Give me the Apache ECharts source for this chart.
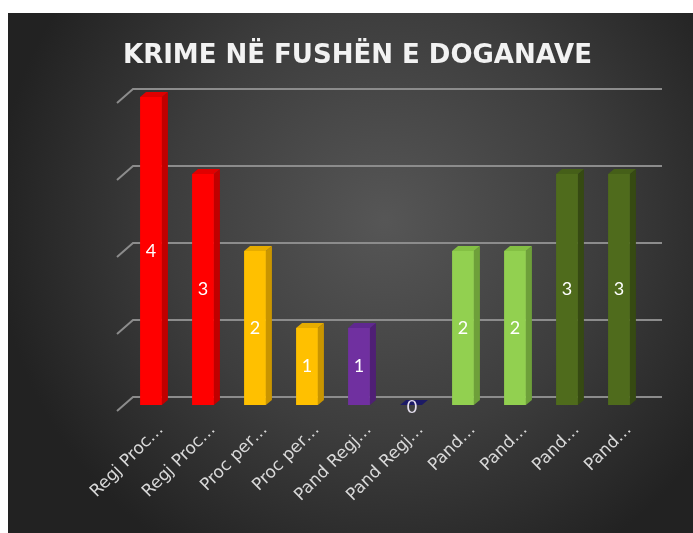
<!DOCTYPE html>
<html>
<head>
<meta charset="utf-8">
<script src="https://cdn.jsdelivr.net/npm/echarts@6/dist/echarts.min.js"></script>
<style>
  html, body { margin: 0; padding: 0; background: #fff; }
  #chart { position: absolute; left: 8px; top: 13px; width: 685px; height: 520px; }
</style>
</head>
<body>
<div id="chart"></div>
<script>
var categories = ['Regj Proc…', 'Regj Proc…', 'Proc per…', 'Proc per…', 'Pand Regj…', 'Pand Regj…', 'Pand…', 'Pand…', 'Pand…', 'Pand…'];
var values = [4, 3, 2, 1, 1, 0, 2, 2, 3, 3];
var yTicks = [0, 1, 2, 3, 4];

// front / side / top colours for each bar
var barColors = [
  ['#ff0000', '#c00000', '#e00000'],
  ['#ff0000', '#c00000', '#e00000'],
  ['#ffc000', '#c99500', '#e6ac00'],
  ['#ffc000', '#c99500', '#e6ac00'],
  ['#7030a0', '#4f1f75', '#5f2890'],
  ['#7030a0', '#4f1f75', '#1c1a66'],
  ['#92d050', '#6ea03a', '#84c044'],
  ['#92d050', '#6ea03a', '#84c044'],
  ['#4f6b1c', '#364a12', '#455f18'],
  ['#4f6b1c', '#364a12', '#455f18']
];

var chart = echarts.init(document.getElementById('chart'));

function renderGrid(params, api) {
  var cs = params.coordSys;
  var y = api.coord([0, api.value(1)])[1];
  return {
    type: 'polyline',
    shape: { points: [[cs.x - 8, y + 6], [cs.x + 8, y - 8], [cs.x + cs.width + 17, y - 8]] },
    style: { stroke: '#8c8c8c', lineWidth: 2, fill: null }
  };
}

function renderBar(params, api) {
  var i = params.dataIndex;
  var v = api.value(1);
  var base = api.coord([api.value(0), 0]);
  var top = api.coord([api.value(0), v]);
  var w = api.size([1, 0])[0] * 0.42;
  var x = base[0] - w / 2;
  var dx = 6, dy = 5;
  var c = barColors[i];
  var children = [];
  if (v > 0) {
    children.push({
      type: 'polygon',
      shape: { points: [[x + w, top[1]], [x + w + dx, top[1] - dy], [x + w + dx, base[1] - dy], [x + w, base[1]]] },
      style: { fill: c[1] }
    });
    children.push({
      type: 'rect',
      shape: { x: x, y: top[1], width: w, height: base[1] - top[1] },
      style: { fill: c[0] }
    });
  }
  children.push({
    type: 'polygon',
    shape: { points: [[x, top[1]], [x + dx, top[1] - dy], [x + w + dx, top[1] - dy], [x + w, top[1]]] },
    style: { fill: c[2] }
  });
  children.push({
    type: 'text',
    z2: 10,
    style: {
      text: String(v),
      x: base[0] + (v > 0 ? 0 : 1),
      y: v > 0 ? (top[1] + base[1]) / 2 : base[1] - 7,
      align: 'center',
      verticalAlign: v > 0 ? 'middle' : 'top',
      fill: v > 0 ? '#ffffff' : '#e6e0f0',
      font: '18px Lato'
    }
  });
  return { type: 'group', children: children };
}

chart.setOption({
  backgroundColor: new echarts.graphic.RadialGradient(0.55, 0.4, 0.75, [
    { offset: 0, color: '#565656' },
    { offset: 0.55, color: '#3d3d3d' },
    { offset: 1, color: '#222222' }
  ]),
  title: {
    text: 'KRIME NË FUSHËN E DOGANAVE',
    left: 110,
    top: 25,
    textStyle: { color: '#f2f2f2', fontSize: 26, fontWeight: 'bold', fontFamily: 'DejaVu Sans' }
  },
  grid: [
    { left: 117, right: 48, top: 84, bottom: 128 },
    // same grid nudged right, only carries the slanted category labels
    { left: 127, right: 38, top: 84, bottom: 128 }
  ],
  xAxis: [
    {
      type: 'category',
      data: categories,
      axisLine: { show: false },
      axisTick: { show: false },
      axisLabel: { show: false }
    },
    {
      type: 'category',
      gridIndex: 1,
      data: categories,
      axisLine: { show: false },
      axisTick: { show: false },
      axisLabel: {
        rotate: 45,
        interval: 0,
        margin: 22,
        color: '#d9d9d9',
        fontSize: 17,
        fontFamily: 'DejaVu Sans'
      }
    }
  ],
  yAxis: [
    {
      type: 'value',
      min: 0,
      max: 4,
      interval: 1,
      axisLabel: { show: false },
      axisLine: { show: false },
      axisTick: { show: false },
      splitLine: { show: false }
    },
    {
      type: 'value',
      gridIndex: 1,
      min: 0,
      max: 4,
      show: false
    }
  ],
  series: [
    {
      type: 'custom',
      renderItem: renderGrid,
      data: yTicks.map(function (t) { return [0, t]; }),
      silent: true,
      z: 1
    },
    {
      type: 'custom',
      renderItem: renderBar,
      data: values.map(function (v, i) { return [i, v]; }),
      z: 2
    }
  ]
});
</script>
</body>
</html>
